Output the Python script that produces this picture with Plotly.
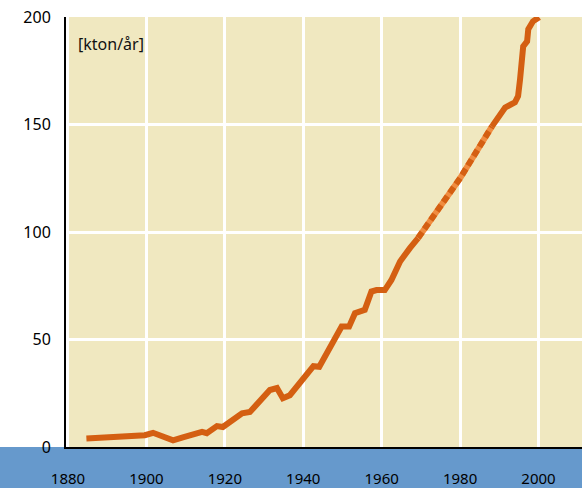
import plotly.graph_objects as go

# Solid section (early years)
years_a = [1884.7, 1894.5, 1899.6, 1901.7, 1906.8, 1909.3, 1914.2, 1915.4, 1918.0, 1919.5,
           1924.4, 1926.4, 1928.9, 1931.5, 1933.3, 1934.8, 1936.6, 1938.3, 1940.4, 1942.6,
           1944.1, 1946.0, 1947.7, 1949.8, 1951.7, 1953.2, 1955.7, 1957.4, 1958.7, 1960.8,
           1962.5, 1964.7, 1967.2, 1969.3]
vals_a = [4.0, 5.0, 5.5, 6.6, 3.1, 4.5, 7.0, 6.4, 9.7, 9.3,
          15.7, 16.3, 21.0, 26.5, 27.4, 22.7, 24.1, 28.0, 33.4, 37.6,
          37.3, 43.6, 49.8, 56.0, 56.0, 62.2, 63.8, 72.3, 73.0, 73.0,
          77.7, 86.3, 92.5, 97.2]

# Dashed section (estimated)
years_b = [1969.3, 1980.0, 1988.1]
vals_b = [97.2, 125.0, 149.0]

# Solid section (recent years)
years_c = [1988.1, 1991.5, 1994.0, 1994.8, 1995.3, 1995.7, 1996.1, 1997.1, 1997.4, 1998.6, 2000.2]
vals_c = [149.0, 157.9, 160.3, 163.2, 171.0, 185.0, 186.3, 188.7, 194.3, 198.0, 199.9]

x_ticks = [1880, 1900, 1920, 1940, 1960, 1980, 2000]
y_ticks = [0, 50, 100, 150, 200]
unit_label = "[kton/år]"

dark = "#D45F12"
light = "#F08C40"

fig = go.Figure()
fig.add_trace(go.Scatter(x=years_a, y=vals_a, mode="lines",
                         line=dict(color=dark, width=6), hoverinfo="skip"))
fig.add_trace(go.Scatter(x=years_b, y=vals_b, mode="lines",
                         line=dict(color=light, width=6), hoverinfo="skip"))
fig.add_trace(go.Scatter(x=years_b, y=vals_b, mode="lines",
                         line=dict(color=dark, width=6, dash="7px,4px"), hoverinfo="skip"))
fig.add_trace(go.Scatter(x=years_c, y=vals_c, mode="lines",
                         line=dict(color=dark, width=6), hoverinfo="skip"))

L, R, T, B = 66, 0, 17, 41
W, H = 582, 488
pw = W - L - R
ph = H - T - B

fig.add_shape(type="rect", xref="paper", yref="paper",
              x0=-L / pw, x1=1 + R / pw, y0=-B / ph, y1=0,
              fillcolor="#6699CC", line=dict(width=0), layer="below")

fig.add_annotation(text=unit_label, xref="paper", yref="paper",
                   x=10 / pw, y=1 - 27 / ph, xanchor="left", yanchor="middle",
                   showarrow=False, font=dict(family="Noto Sans", size=16, color="#111"))

fig.update_layout(
    width=W, height=H,
    margin=dict(l=L, r=R, t=T, b=B, autoexpand=False),
    paper_bgcolor="white",
    plot_bgcolor="#F0E8C0",
    showlegend=False,
    xaxis=dict(range=[1879.5, 2011.1], tickvals=x_ticks, ticktext=[str(v) for v in x_ticks],
               showgrid=True, gridcolor="white", gridwidth=3, automargin=False,
               zeroline=False, showline=True, linecolor="black", linewidth=2,
               ticks="", ticklabelstandoff=17,
               tickfont=dict(family="Noto Sans", size=15, color="black")),
    yaxis=dict(range=[0, 200], tickvals=y_ticks, ticktext=[str(v) for v in y_ticks],
               showgrid=True, gridcolor="white", gridwidth=3, automargin=False,
               zeroline=False, showline=True, linecolor="black", linewidth=2,
               ticks="", ticklabelstandoff=10,
               tickfont=dict(family="Noto Sans", size=16, color="black")),
)

fig.write_html("out.html",
               config={"displayModeBar": False},
               post_script="document.body.style.margin='0';document.body.style.overflow='hidden';")
